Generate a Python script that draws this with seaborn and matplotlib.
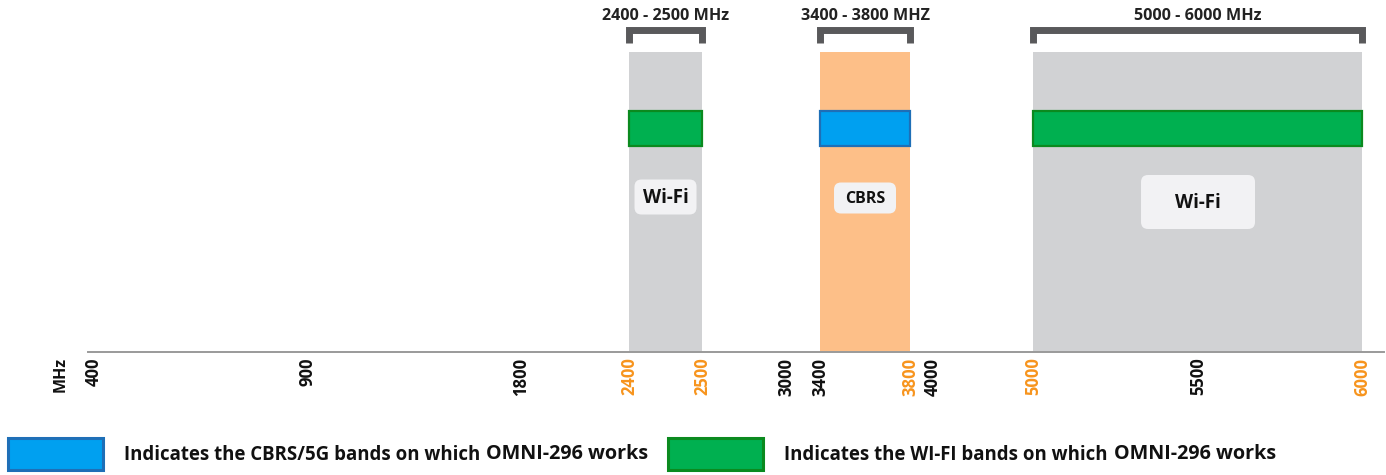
import numpy as np
import matplotlib
matplotlib.use("Agg")
import matplotlib.pyplot as plt
import seaborn as sns
from matplotlib.patches import FancyBboxPatch, Rectangle
from matplotlib.transforms import IdentityTransform

# frequency axis (MHz) and which ticks are band edges
tick_mhz = [400, 900, 1800, 2400, 2500, 3000, 3400, 3800, 4000, 5000, 5500, 6000]
tick_orange = [2400, 2500, 3800, 5000, 6000]

# bands
band_start = [2400, 3400, 5000]
band_end = [2500, 3800, 6000]
band_name = ["Wi-Fi", "CBRS", "Wi-Fi"]
band_kind = ["wifi", "cbrs", "wifi"]
bracket_text = ["2400 - 2500 MHz", "3400 - 3800 MHZ", "5000 - 6000 MHz"]

legend_text = ["Indicates the CBRS/5G bands on which ", "Indicates the WI-FI bands on which "]
legend_tail = "OMNI-296 works"

# piecewise axis layout (pixel position of each tick along the axis)
knot_mhz = [0] + tick_mhz + [7000]
knot_px = [-76.4, 94, 307, 521, 629, 702, 786, 820, 910, 933, 1033, 1198, 1362, 1690]


def fwd(x):
    return np.interp(x, knot_mhz, knot_px)


def inv(p):
    return np.interp(p, knot_px, knot_mhz)


W, H = 1386, 475
sns.set_theme(style="white")
plt.rcParams["font.family"] = ["Open Sans", "DejaVu Sans"]

fig = plt.figure(figsize=(W / 100, H / 100), dpi=100)
ax = fig.add_axes([88 / W, 123 / H, 1296 / W, 352 / H])
ax.set_xscale("function", functions=(fwd, inv))
ax.set_xlim(385.9, 6067)
ax.set_ylim(352, 0)
ax.patch.set_alpha(0)

fill = {"wifi": "#d1d2d4", "cbrs": "#fdbf88"}
bar_fc = {"wifi": "#00b050", "cbrs": "#00a0f0"}
bar_ec = {"wifi": "#0b8a1f", "cbrs": "#1e6fb7"}
box_w = [62, 62, 114]
box_h = [35, 31, 54]
box_y = [197, 198, 202]
box_fs = [13.5, 11.5, 13.5]

for i in range(len(band_start)):
    s, e, k = band_start[i], band_end[i], band_kind[i]
    ax.barh(202, e - s, left=s, height=300, color=fill[k], linewidth=0, zorder=1)
    ax.barh(128, e - s, left=s, height=35, color=bar_fc[k],
            edgecolor=bar_ec[k], linewidth=1.6, zorder=2)
    ax.plot([s, s, e, e], [43, 30, 30, 43], color="#59595b", lw=5,
            solid_joinstyle="miter", solid_capstyle="butt", clip_on=False, zorder=3)
    mid = (s + e) / 2
    ax.text(mid, 16, bracket_text[i], ha="center", va="center", fontsize=11.6,
            fontweight="bold", color="#222222", clip_on=False)
    # name label in a rounded box, sized in pixels
    cx, cy = ax.transData.transform((mid, box_y[i]))
    w, h = box_w[i], box_h[i]
    ax.add_artist(FancyBboxPatch((cx - w / 2, cy - h / 2), w, h,
                                 boxstyle="round,pad=0,rounding_size=7",
                                 transform=IdentityTransform(), fc="#f2f2f4",
                                 ec="none", zorder=4))
    ax.text(mid, box_y[i] + 1, band_name[i], ha="center", va="center",
            fontsize=box_fs[i], fontweight="bold", color="#111111", zorder=5)

sns.despine(ax=ax, left=True, top=True, right=True)
ax.spines["bottom"].set_color("#9a9a9a")
ax.spines["bottom"].set_linewidth(1.4)
ax.set_yticks([])
ax.set_xticks(tick_mhz)
ax.set_xticklabels([str(t) for t in tick_mhz], rotation=90, fontsize=12,
                   fontweight="bold", va="top")
ax.xaxis.set_minor_locator(matplotlib.ticker.NullLocator())
ax.tick_params(axis="x", length=0, pad=4)
for lab, t in zip(ax.get_xticklabels(), tick_mhz):
    lab.set_color("#f7941d" if t in tick_orange else "#111111")
fig.text(61 / W, (H - 357) / H, "MHz", rotation=90, ha="center", va="top",
         fontsize=11.5, fontweight="bold", color="#111111")

# legend along the bottom
leg_x = [8, 668]
leg_fc = ["#00a0f0", "#00b050"]
leg_ec = ["#1e6fb7", "#0b8a1f"]
renderer = fig.canvas.get_renderer()
for j in range(2):
    fig.add_artist(Rectangle((leg_x[j] / W, 5 / H), 95 / W, 32 / H, transform=fig.transFigure,
                             fc=leg_fc[j], ec=leg_ec[j], lw=2.2))
    t1 = fig.text((leg_x[j] + 116) / W, 20 / H, legend_text[j].rstrip(), ha="left",
                  va="center", fontsize=13.4, fontweight="bold", color="#111111")
    x_end = t1.get_window_extent(renderer).x1
    fig.text((x_end + 6) / W, 21 / H, legend_tail, ha="left", va="center",
             fontsize=14.2, fontweight="bold", color="#111111")

fig.savefig("out.png", dpi=100)
